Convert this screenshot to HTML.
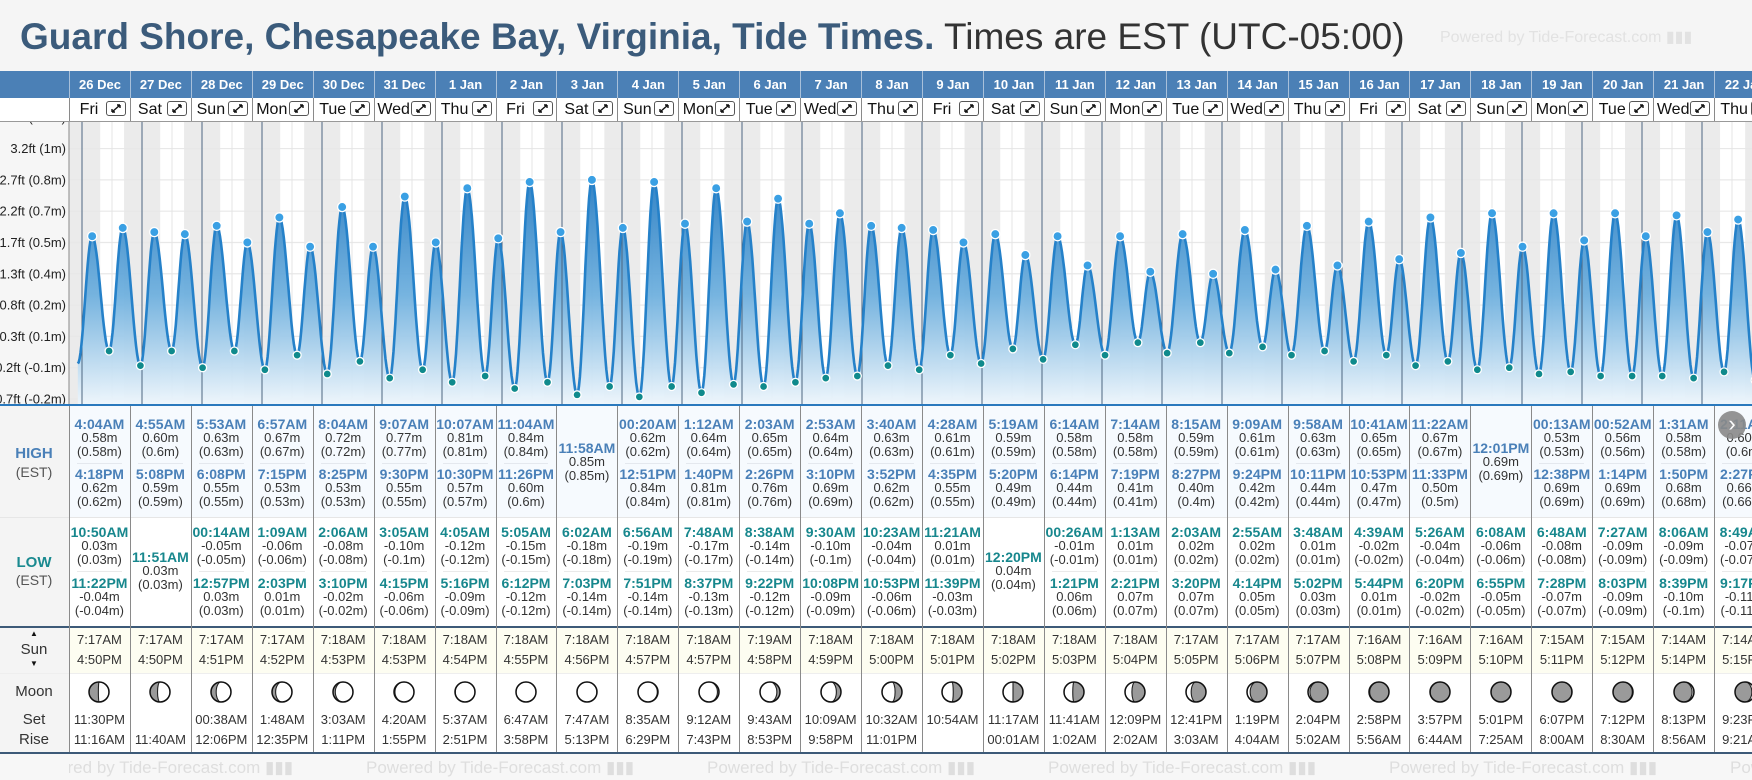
<!DOCTYPE html>
<html><head><meta charset="utf-8">
<style>
html,body{margin:0;padding:0}
body{width:1752px;height:780px;overflow:hidden;position:relative;background:#f5f5f5;font-family:"Liberation Sans",Arial,sans-serif;color:#333}
.abs{position:absolute}
#title{position:absolute;left:20px;top:16px;font-size:37px;line-height:42px;color:#333;white-space:nowrap}
#title b{color:#3b5b7b}
</style></head>
<body>
<div id="title"><b>Guard Shore, Chesapeake Bay, Virginia, Tide Times.</b> Times are EST (UTC-05:00)</div>
<div class="abs" style="left:1440px;top:27px;font-size:16px;color:#e2e2e2;white-space:nowrap">Powered by Tide-Forecast.com ▮▮▮</div>
<div id="header" class="abs" style="left:0;top:71px;width:1752px;height:27px;background:#4b80b6;overflow:hidden"></div>
<div id="dayrow" class="abs" style="left:0;top:98px;width:1752px;height:23px;background:#fff;border-bottom:1px solid #999;z-index:3;overflow:hidden"></div>
<svg id="chart" class="abs" style="left:0;top:0" width="1752" height="406"></svg>
<div id="table" class="abs" style="left:0;top:406px;width:1752px;height:374px;overflow:hidden"></div>
<script>
const dates=["26 Dec","27 Dec","28 Dec","29 Dec","30 Dec","31 Dec","1 Jan","2 Jan","3 Jan","4 Jan","5 Jan","6 Jan","7 Jan","8 Jan","9 Jan","10 Jan","11 Jan","12 Jan","13 Jan","14 Jan","15 Jan","16 Jan","17 Jan","18 Jan","19 Jan","20 Jan","21 Jan","22 Jan"];
const dayNames=["Fri","Sat","Sun","Mon","Tue","Wed","Thu","Fri","Sat","Sun","Mon","Tue","Wed","Thu","Fri","Sat","Sun","Mon","Tue","Wed","Thu","Fri","Sat","Sun","Mon","Tue","Wed","Thu"];
const highs=[
[["4:04AM","0.58"],["4:18PM","0.62"]],[["4:55AM","0.60"],["5:08PM","0.59"]],[["5:53AM","0.63"],["6:08PM","0.55"]],[["6:57AM","0.67"],["7:15PM","0.53"]],
[["8:04AM","0.72"],["8:25PM","0.53"]],[["9:07AM","0.77"],["9:30PM","0.55"]],[["10:07AM","0.81"],["10:30PM","0.57"]],[["11:04AM","0.84"],["11:26PM","0.60"]],
[["11:58AM","0.85"]],[["00:20AM","0.62"],["12:51PM","0.84"]],[["1:12AM","0.64"],["1:40PM","0.81"]],[["2:03AM","0.65"],["2:26PM","0.76"]],
[["2:53AM","0.64"],["3:10PM","0.69"]],[["3:40AM","0.63"],["3:52PM","0.62"]],[["4:28AM","0.61"],["4:35PM","0.55"]],[["5:19AM","0.59"],["5:20PM","0.49"]],
[["6:14AM","0.58"],["6:14PM","0.44"]],[["7:14AM","0.58"],["7:19PM","0.41"]],[["8:15AM","0.59"],["8:27PM","0.40"]],[["9:09AM","0.61"],["9:24PM","0.42"]],
[["9:58AM","0.63"],["10:11PM","0.44"]],[["10:41AM","0.65"],["10:53PM","0.47"]],[["11:22AM","0.67"],["11:33PM","0.50"]],[["12:01PM","0.69"]],
[["00:13AM","0.53"],["12:38PM","0.69"]],[["00:52AM","0.56"],["1:14PM","0.69"]],[["1:31AM","0.58"],["1:50PM","0.68"]],[["2:11AM","0.60"],["2:27PM","0.66"]]];
const lows=[
[["10:50AM","0.03"],["11:22PM","-0.04"]],[["11:51AM","0.03"]],[["00:14AM","-0.05"],["12:57PM","0.03"]],[["1:09AM","-0.06"],["2:03PM","0.01"]],
[["2:06AM","-0.08"],["3:10PM","-0.02"]],[["3:05AM","-0.10"],["4:15PM","-0.06"]],[["4:05AM","-0.12"],["5:16PM","-0.09"]],[["5:05AM","-0.15"],["6:12PM","-0.12"]],
[["6:02AM","-0.18"],["7:03PM","-0.14"]],[["6:56AM","-0.19"],["7:51PM","-0.14"]],[["7:48AM","-0.17"],["8:37PM","-0.13"]],[["8:38AM","-0.14"],["9:22PM","-0.12"]],
[["9:30AM","-0.10"],["10:08PM","-0.09"]],[["10:23AM","-0.04"],["10:53PM","-0.06"]],[["11:21AM","0.01"],["11:39PM","-0.03"]],[["12:20PM","0.04"]],
[["00:26AM","-0.01"],["1:21PM","0.06"]],[["1:13AM","0.01"],["2:21PM","0.07"]],[["2:03AM","0.02"],["3:20PM","0.07"]],[["2:55AM","0.02"],["4:14PM","0.05"]],
[["3:48AM","0.01"],["5:02PM","0.03"]],[["4:39AM","-0.02"],["5:44PM","0.01"]],[["5:26AM","-0.04"],["6:20PM","-0.02"]],[["6:08AM","-0.06"],["6:55PM","-0.05"]],
[["6:48AM","-0.08"],["7:28PM","-0.07"]],[["7:27AM","-0.09"],["8:03PM","-0.09"]],[["8:06AM","-0.09"],["8:39PM","-0.10"]],[["8:49AM","-0.07"],["9:17PM","-0.11"]]];
const leadLow=["10:20PM","-0.03"];
const sunRise=["7:17AM","7:17AM","7:17AM","7:17AM","7:18AM","7:18AM","7:18AM","7:18AM","7:18AM","7:18AM","7:18AM","7:19AM","7:18AM","7:18AM","7:18AM","7:18AM","7:18AM","7:18AM","7:17AM","7:17AM","7:17AM","7:16AM","7:16AM","7:16AM","7:15AM","7:15AM","7:14AM","7:14AM"];
const sunSet=["4:50PM","4:50PM","4:51PM","4:52PM","4:53PM","4:53PM","4:54PM","4:55PM","4:56PM","4:57PM","4:57PM","4:58PM","4:59PM","5:00PM","5:01PM","5:02PM","5:03PM","5:04PM","5:05PM","5:06PM","5:07PM","5:08PM","5:09PM","5:10PM","5:11PM","5:12PM","5:14PM","5:15PM"];
const moonSet=["11:30PM","","00:38AM","1:48AM","3:03AM","4:20AM","5:37AM","6:47AM","7:47AM","8:35AM","9:12AM","9:43AM","10:09AM","10:32AM","10:54AM","11:17AM","11:41AM","12:09PM","12:41PM","1:19PM","2:04PM","2:58PM","3:57PM","5:01PM","6:07PM","7:12PM","8:13PM","9:23PM"];
const moonRise=["11:16AM","11:40AM","12:06PM","12:35PM","1:11PM","1:55PM","2:51PM","3:58PM","5:13PM","6:29PM","7:43PM","8:53PM","9:58PM","11:01PM","","00:01AM","1:02AM","2:02AM","3:03AM","4:04AM","5:02AM","5:56AM","6:44AM","7:25AM","8:00AM","8:30AM","8:56AM","9:21AM"];
const moonPhase=[0.26,0.29,0.33,0.36,0.39,0.43,0.46,0.49,0.53,0.56,0.59,0.63,0.66,0.70,0.73,0.75,0.77,0.80,0.83,0.87,0.90,0.94,0.97,0.00,0.03,0.06,0.10,0.13];
const tickM=[1.15,1.0,0.85,0.7,0.55,0.4,0.25,0.1,-0.05,-0.2];
const tickLabels=["3.7ft (1.1m)","3.2ft (1m)","2.7ft (0.8m)","2.2ft (0.7m)","1.7ft (0.5m)","1.3ft (0.4m)","0.8ft (0.2m)","0.3ft (0.1m)","-0.2ft (-0.1m)","-0.7ft (-0.2m)"];

const NS="http://www.w3.org/2000/svg";
const CW=60.93, CX0=69, DAYW=60, DX0=82, CT=121, CB=405;
function hrs(s){const m=s.match(/(\d+):(\d+)(AM|PM)/);let h=(+m[1])%12;if(m[3]=="PM")h+=12;return h+(+m[2])/60;}
function xT(d,s){return DX0+(d+hrs(s)/24)*DAYW;}
function yM(m){return 399-(m+0.2)*208.7;}
function colX(i){return CX0+i*CW;}
function sv(tag,attrs,parent){const e=document.createElementNS(NS,tag);for(const k in attrs)e.setAttribute(k,attrs[k]);parent.appendChild(e);return e;}
function div(parent,css,txt){const e=document.createElement('div');e.style.cssText=css;if(txt!==undefined)e.textContent=txt;parent.appendChild(e);return e;}

// ---------- chart ----------
const svg=document.getElementById('chart');
const defs=sv('defs',{},svg);
const cp=sv('clipPath',{id:'plotclip'},defs);sv('rect',{x:69,y:CT,width:1683,height:CB-CT},cp);
const lg=sv('linearGradient',{id:'fillg',x1:0,y1:160,x2:0,y2:CB,gradientUnits:'userSpaceOnUse'},defs);
sv('stop',{offset:'0','stop-color':'#1f76bf'},lg);sv('stop',{offset:'0.55','stop-color':'#6fb0de'},lg);sv('stop',{offset:'1','stop-color':'#eef6fc'},lg);
const bg=sv('rect',{x:0,y:CT,width:69,height:CB-CT,fill:'#f6f6f6'},svg);


const plot=sv('g',{'clip-path':'url(#plotclip)'},svg);
sv('rect',{x:69,y:CT,width:1683,height:CB-CT,fill:'#ffffff'},plot);
for(let d=-1;d<dates.length;d++){
  const i0=Math.max(d,0), i1=Math.min(d+1,dates.length-1);
  const xa=xT(d,sunSet[i0]), xb=xT(d+1,sunRise[i1]);
  const n=sv('rect',{x:xa,y:CT,width:xb-xa,height:CB-CT,fill:'#ebebeb'},plot);
  
  
}
tickM.forEach((m)=>{
  sv('line',{x1:69,x2:1752,y1:yM(m),y2:yM(m),stroke:'#e8e8e8','stroke-width':1.2},plot);
});
for(let d=0;d<=dates.length;d++){
  const xn=DX0+(d+0.5)*DAYW;
  sv('line',{x1:xn,x2:xn,y1:CT,y2:CB,stroke:'#e4e4e4','stroke-width':1},plot);
}
const events=[{x:xT(-1,leadLow[0]),m:+leadLow[1],hi:false,lead:true}];
dates.forEach((_,d)=>{
  highs[d].forEach(e=>events.push({x:xT(d,e[0]),m:+e[1],hi:true}));
  lows[d].forEach(e=>events.push({x:xT(d,e[0]),m:+e[1],hi:false}));
});
events.sort((a,b)=>a.x-b.x);
let pts=[];
for(let k=0;k<events.length-1;k++){
  const a=events[k],b=events[k+1];
  for(let s=0;s<16;s++){const f=s/16;const m=a.m+(b.m-a.m)*(1-Math.cos(Math.PI*f))/2;pts.push([a.x+(b.x-a.x)*f,yM(m)]);}
}
const last=events[events.length-1];pts.push([last.x,yM(last.m)]);
const line=pts.map((p,i)=>(i?'L':'M')+p[0].toFixed(1)+','+p[1].toFixed(1)).join('');
const area=sv('path',{d:line+`L${pts[pts.length-1][0].toFixed(1)},${CB}L${pts[0][0].toFixed(1)},${CB}Z`,fill:'url(#fillg)',opacity:0.95},plot);


for(let d=0;d<=dates.length;d++){
  const xd=DX0+d*DAYW;
  const dl=sv('line',{x1:xd,x2:xd,y1:CT,y2:CB,stroke:'#4d6680','stroke-width':1},plot);
  
  
}
const curve=sv('path',{d:line,fill:'none',stroke:'#2581c9','stroke-width':2.6,'stroke-linejoin':'round'},plot);


events.forEach(e=>{
  if(e.lead)return;
  const c=sv('circle',{cx:e.x,cy:yM(e.m),r:e.hi?4.6:4,fill:e.hi?'#3aa0e4':'#0f8a8c',stroke:'#fff','stroke-width':1.3},plot);
  
  
});
tickM.forEach((m,i)=>{
  const t=sv('text',{x:66,y:yM(m)+4.5,'text-anchor':'end','font-size':13,fill:'#222'},svg);
  t.textContent=tickLabels[i];
  
  
});
sv('line',{x1:69,x2:69,y1:CT,y2:CB,stroke:'#888','stroke-width':1},svg);
sv('line',{x1:0,x2:1752,y1:CB,y2:CB,stroke:'#2a79bd','stroke-width':2},svg);

// ---------- header & day row ----------
const hdr=document.getElementById('header'), dr=document.getElementById('dayrow');
dates.forEach((d,i)=>{
  const x=colX(i);
  const h=div(hdr,`position:absolute;left:${x}px;top:0;width:${CW}px;height:27px;line-height:27px;text-align:center;color:#fff;font-weight:bold;font-size:13px;border-left:1px solid #a8c0da;box-sizing:border-box;white-space:nowrap`,d);
  
  
  const c=div(dr,`position:absolute;left:${x}px;top:0;width:${CW}px;height:23px;border-left:1px solid #8a8a8a;box-sizing:border-box`);
  
  
  const nm=div(c,`position:absolute;left:0;width:38px;top:0;line-height:23px;text-align:center;font-size:16px;color:#111`,dayNames[i]);
  
  
  const b=div(c,`position:absolute;left:36px;top:3px;width:20px;height:15px;border:1px solid #555;border-radius:3px;box-sizing:border-box;background:#fff`);
  b.innerHTML='<svg width="18" height="13" style="position:absolute;left:0;top:0"><path d="M5 10 L13 3 M5 10 L5 7 M5 10 L8 10 M13 3 L10 3 M13 3 L13 6" stroke="#111" stroke-width="1.4" fill="none"/></svg>';
  
  
});

// ---------- table ----------
const tb=document.getElementById('table');
const T0=406;
function band(top,h,color,name){const e=div(tb,`position:absolute;left:0;top:${top-T0}px;width:1752px;height:${h}px;background:${color}`);return e;}
band(406,111,'#f6fafe','high-row');
band(517,109,'#ffffff','low-row');
band(628,45,'#fdfdf1','sun-row');
band(673,79,'#ffffff','moon-row');
band(754,26,'#f7f7f7','footer');
div(tb,`position:absolute;left:0;top:0;width:69px;height:346px;background:#f4f4f4`);
div(tb,`position:absolute;left:0;top:${517-T0}px;width:1752px;height:1px;background:#e6e6e6`);
div(tb,`position:absolute;left:0;top:${626-T0}px;width:1752px;height:2px;background:#3d5a78`);
div(tb,`position:absolute;left:0;top:${673-T0}px;width:1752px;height:1px;background:#eeeeee`);
div(tb,`position:absolute;left:0;top:${752-T0}px;width:1752px;height:2px;background:#3d5a78`);
div(tb,`position:absolute;left:69px;top:0;width:1px;height:346px;background:#888`);
function txt(cx,yc,s,css,name){const e=div(tb,`position:absolute;left:${cx-45}px;width:90px;top:${yc-8-T0}px;text-align:center;line-height:16px;white-space:nowrap;${css}`,s);return e;}
txt(34,454,'HIGH','font-weight:bold;font-size:15px;color:#4a80b8','high-label');
txt(34,472,'(EST)','font-size:14px;color:#555','high-tz');
txt(34,563,'LOW','font-weight:bold;font-size:15px;color:#1a8a90','low-label');
txt(34,580,'(EST)','font-size:14px;color:#555','low-tz');
txt(34,634,'▲','font-size:8px;color:#111','sunrise-arrow');
txt(34,650,'Sun','font-size:15px;color:#333','sun-label');
txt(34,664,'▼','font-size:8px;color:#111','sunset-arrow');
txt(34,692,'Moon','font-size:15px;color:#333','moon-label');
txt(34,720,'Set','font-size:15px;color:#333','moonset-label');
txt(34,740,'Rise','font-size:15px;color:#333','moonrise-label');
function fmtP(v){return '('+parseFloat(v).toString()+'m)';}
function entry(cx,y,e,color,kind){
  txt(cx,y,e[0],`font-weight:bold;font-size:14px;color:${color}`,kind+'-time');
  txt(cx,y+14,e[1]+'m','font-size:13px;color:#333',kind+'-height');
  txt(cx,y+28,fmtP(e[1]),'font-size:13px;color:#333',kind+'-height-alt');
}
function moonSvg(p){
  const r=10,c=12,rx=(r*Math.abs(Math.cos(2*Math.PI*p))).toFixed(2);
  let d;
  if(p<0.5){const sw=p<0.25?0:1;d=`M${c},${c-r} A${r},${r} 0 0 1 ${c},${c+r} A${rx},${r} 0 0 ${sw} ${c},${c-r}Z`;}
  else{const sw=p<0.75?0:1;d=`M${c},${c-r} A${r},${r} 0 0 0 ${c},${c+r} A${rx},${r} 0 0 ${sw} ${c},${c-r}Z`;}
  return `<svg width="24" height="24"><circle cx="${c}" cy="${c}" r="${r}" fill="#9a9a9a"/><path d="${d}" fill="#fff" stroke="#222" stroke-width="1.1"/><circle cx="${c}" cy="${c}" r="${r}" fill="none" stroke="#111" stroke-width="1.5"/></svg>`;
}
dates.forEach((_,i)=>{
  const x=colX(i), cx=x+CW/2;
  const v=div(tb,`position:absolute;left:${x}px;top:0;width:1px;height:346px;background:#8a8a8a`);
  
  
  const H=highs[i];
  if(H.length==2){entry(cx,424,H[0],'#4a80b8','high');div(tb,`position:absolute;left:${x+8}px;top:${463-T0}px;width:${CW-16}px;height:1px;background:#e4e8ee`);entry(cx,474,H[1],'#4a80b8','high');}
  else entry(cx,448,H[0],'#4a80b8','high');
  const L=lows[i];
  if(L.length==2){entry(cx,532,L[0],'#17878d','low');div(tb,`position:absolute;left:${x+8}px;top:${571-T0}px;width:${CW-16}px;height:1px;background:#eaeaea`);entry(cx,583,L[1],'#17878d','low');}
  else entry(cx,557,L[0],'#17878d','low');
  txt(cx,640,sunRise[i],'font-size:13px;color:#333','sunrise-time');
  txt(cx,660,sunSet[i],'font-size:13px;color:#333','sunset-time');
  const m=div(tb,`position:absolute;left:${cx-12}px;top:${680-T0}px;width:24px;height:24px`);
  m.innerHTML=moonSvg(moonPhase[i]);
  
  
  txt(cx,720,moonSet[i],'font-size:13px;color:#333','moonset-time');
  txt(cx,740,moonRise[i],'font-size:13px;color:#333','moonrise-time');
});
for(let k=0;k<6;k++){
  const w=div(tb,`position:absolute;left:${25+341*k}px;top:${758-T0}px;font-size:17px;color:#dedede;white-space:nowrap;line-height:20px`,'Powered by Tide-Forecast.com ▮▮▮');
  
  
}
div(tb,`position:absolute;left:0;top:${754-T0}px;width:69px;height:26px;background:#f7f7f7`);
const nb=div(document.body,`position:absolute;left:1718px;top:411px;width:28px;height:28px;border-radius:50%;background:#8a8a8a;color:#fff;font-size:22px;line-height:26px;text-align:center;z-index:5;opacity:0.9`,'›');


</script>
</body></html>
